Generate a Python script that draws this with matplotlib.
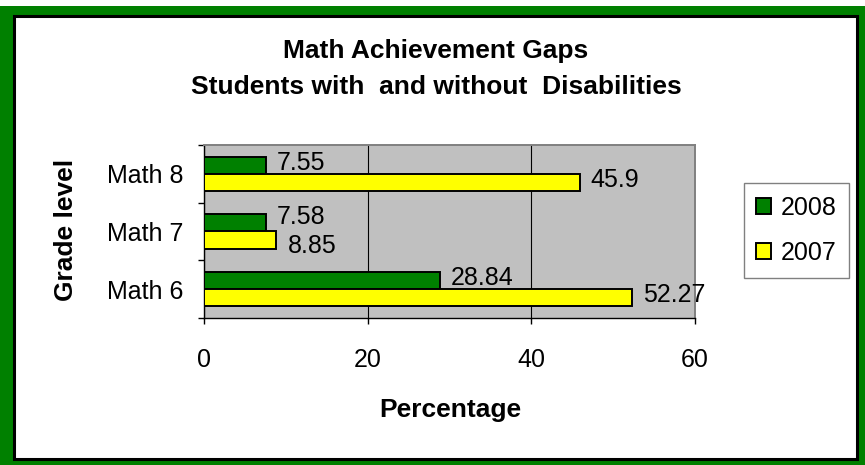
import matplotlib.pyplot as plt
import matplotlib.patches as mpatches
import numpy as np

plt.rcParams['font.family'] = ['Liberation Sans', 'DejaVu Sans']

# datos
grados = ["Math 6", "Math 7", "Math 8"]
v2008 = [28.84, 7.58, 7.55]
v2007 = [52.27, 8.85, 45.9]
xticks = [0, 20, 40, 60]

verde = "#008000"
amarillo = "#FFFF00"
gris = "#C0C0C0"

W, H = 865, 465
fig = plt.figure(figsize=(W / 100, H / 100), dpi=100)
fig.patch.set_facecolor(verde)

# franja blanca arriba y marco blanco con borde negro
fig.patches.append(mpatches.Rectangle((0, 1 - 6 / H), 1, 6 / H, transform=fig.transFigure,
                                      facecolor="white", edgecolor="none", zorder=-10))
fig.patches.append(mpatches.Rectangle((14.5 / W, 6.5 / H), 842 / W, 442 / H, transform=fig.transFigure,
                                      facecolor="white", edgecolor="black", linewidth=2.2, zorder=-10))

ax = fig.add_axes([204 / W, 1 - 318 / H, 491 / W, 173 / H])
ax.set_facecolor(gris)

y = np.arange(len(grados))
h = 0.295
b8 = ax.barh(y + h / 2, v2008, height=h, color=verde, edgecolor="black", linewidth=1.4, label="2008", zorder=3)
b7 = ax.barh(y - h / 2, v2007, height=h, color=amarillo, edgecolor="black", linewidth=1.4, label="2007", zorder=3)

for i in range(len(grados)):
    # si las barras son casi iguales, las etiquetas se separan
    cerca = abs(v2008[i] - v2007[i]) < 5
    d8 = 4 if cerca else 2
    d7 = -4 if cerca else 2
    ax.annotate(str(v2008[i]), (v2008[i], y[i] + h / 2), xytext=(8, d8), textcoords="offset points",
                va="center", ha="left", fontsize=18, annotation_clip=False)
    ax.annotate(str(v2007[i]), (v2007[i], y[i] - h / 2), xytext=(8, d7), textcoords="offset points",
                va="center", ha="left", fontsize=18, annotation_clip=False)

ax.set_xlim(0, 60)
ax.set_ylim(-0.5, 2.5)
ax.set_xticks(xticks)
ax.set_yticks(y)
ax.set_yticklabels(grados)
ax.set_yticks([-0.5, 0.5, 1.5, 2.5], minor=True)
ax.tick_params(axis="y", which="major", length=0, pad=15, labelsize=18)
ax.tick_params(axis="y", which="minor", length=4, width=1, direction="out")
ax.tick_params(axis="x", length=4.5, width=1, pad=17, labelsize=18)
ax.grid(axis="x", color="black", linewidth=0.8, zorder=1)
ax.set_axisbelow(True)

for s in ["top", "right"]:
    ax.spines[s].set_color("#808080")
    ax.spines[s].set_linewidth(1.4)
for s in ["left", "bottom"]:
    ax.spines[s].set_color("black")
    ax.spines[s].set_linewidth(1)

fig.text(436 / W, 1 - 51 / H, "Math Achievement Gaps", ha="center", va="center",
         fontsize=19, fontweight="bold")
fig.text(436 / W, 1 - 87 / H, "Students with  and without  Disabilities", ha="center", va="center",
         fontsize=19, fontweight="bold")
fig.text(450 / W, 1 - 410 / H, "Percentage", ha="center", va="center", fontsize=19, fontweight="bold")
fig.text(66 / W, 1 - 230 / H, "Grade level", ha="center", va="center", rotation=90,
         fontsize=19, fontweight="bold")

leg = fig.legend(handles=[b8, b7], labels=["2008", "2007"], loc="center",
                 bbox_to_anchor=(796.5 / W, 1 - 230.5 / H), fontsize=18,
                 frameon=True, fancybox=False, edgecolor="#808080", framealpha=1,
                 handlelength=0.6, handleheight=0.6, handletextpad=0.4, labelspacing=0.85,
                 borderpad=0.5)
leg.get_frame().set_linewidth(1)

plt.savefig("out.png", dpi=100, facecolor=fig.get_facecolor())
